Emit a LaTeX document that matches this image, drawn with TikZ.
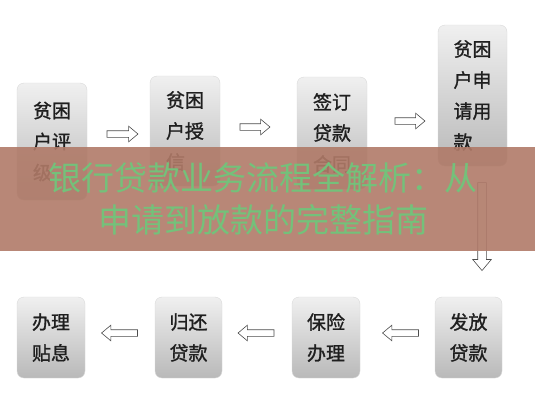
\documentclass[tikz,border=0pt]{standalone}
\usepackage{fontspec}
\setmainfont{Noto Sans CJK SC}
\newfontfamily\boxfont[FakeBold=1.2]{Noto Sans CJK SC}
\newfontfamily\titlefont{Noto Sans CJK SC}
\usetikzlibrary{shapes.arrows}
\definecolor{banner}{HTML}{B07A68}
\definecolor{titlegreen}{HTML}{74C17A}

\begin{document}
\begin{tikzpicture}[x=1pt,y=-1pt,
	stepbox/.style={rounded corners=7pt, top color=gray!12, bottom color=gray!55, draw=gray!30, text=black!88, font=\boxfont\fontsize{19}{31}\selectfont, align=left, inner sep=0pt},
	harrow/.style={single arrow, draw=gray!60!black, fill=white, line width=0.6pt, inner xsep=0pt, inner ysep=3pt, single arrow head extend=4.5pt, single arrow tip angle=80}]
	\useasboundingbox (0,0) rectangle (535,400);
	\node (b1) [stepbox, minimum width=70pt, minimum height=117pt] at (52,141.5) {贫困\\户评\\级};
	\node (b2) [stepbox, minimum width=70pt, minimum height=110pt] at (185,131) {贫困\\户授\\信};
	\node (b3) [stepbox, minimum width=70pt, minimum height=112pt] at (332,133) {签订\\贷款\\合同};
	\node (b4) [stepbox, minimum width=69pt, minimum height=141pt] at (472.5,95.5) {贫困\\户申\\请用\\款};
	\node (b5) [stepbox, minimum width=67pt, minimum height=81pt] at (468.5,337.5) {发放\\贷款};
	\node (b6) [stepbox, minimum width=68pt, minimum height=81pt] at (326,337.5) {保险\\办理};
	\node (b7) [stepbox, minimum width=67pt, minimum height=81pt] at (188.5,337.5) {归还\\贷款};
	\node (b8) [stepbox, minimum width=68pt, minimum height=81pt] at (51,337.5) {办理\\贴息};
	\node (r1) [harrow, minimum height=31pt] at (120.5,134) {};
	\node (r2) [harrow, minimum height=30pt] at (253,127) {};
	\node (r3) [harrow, minimum height=30pt] at (408,121) {};
	\node (r4) [harrow, minimum height=88pt, inner xsep=4pt, inner ysep=0pt, single arrow head extend=5pt, shape border rotate=270] at (482,224) {};
	\node (r5) [harrow, minimum height=36pt, shape border rotate=180] at (402.5,333) {};
	\node (r6) [harrow, minimum height=36pt, shape border rotate=180] at (258,333) {};
	\node (r7) [harrow, minimum height=36pt, shape border rotate=180] at (121.5,333) {};
	\fill[banner, opacity=0.9] (0,147) rectangle (535,251);
	\node (title) [text=titlegreen, font=\titlefont\fontsize{33}{42}\selectfont, align=center] at (263,199) {银行贷款业务流程全解析：从\\申请到放款的完整指南};
\end{tikzpicture}
\end{document}
